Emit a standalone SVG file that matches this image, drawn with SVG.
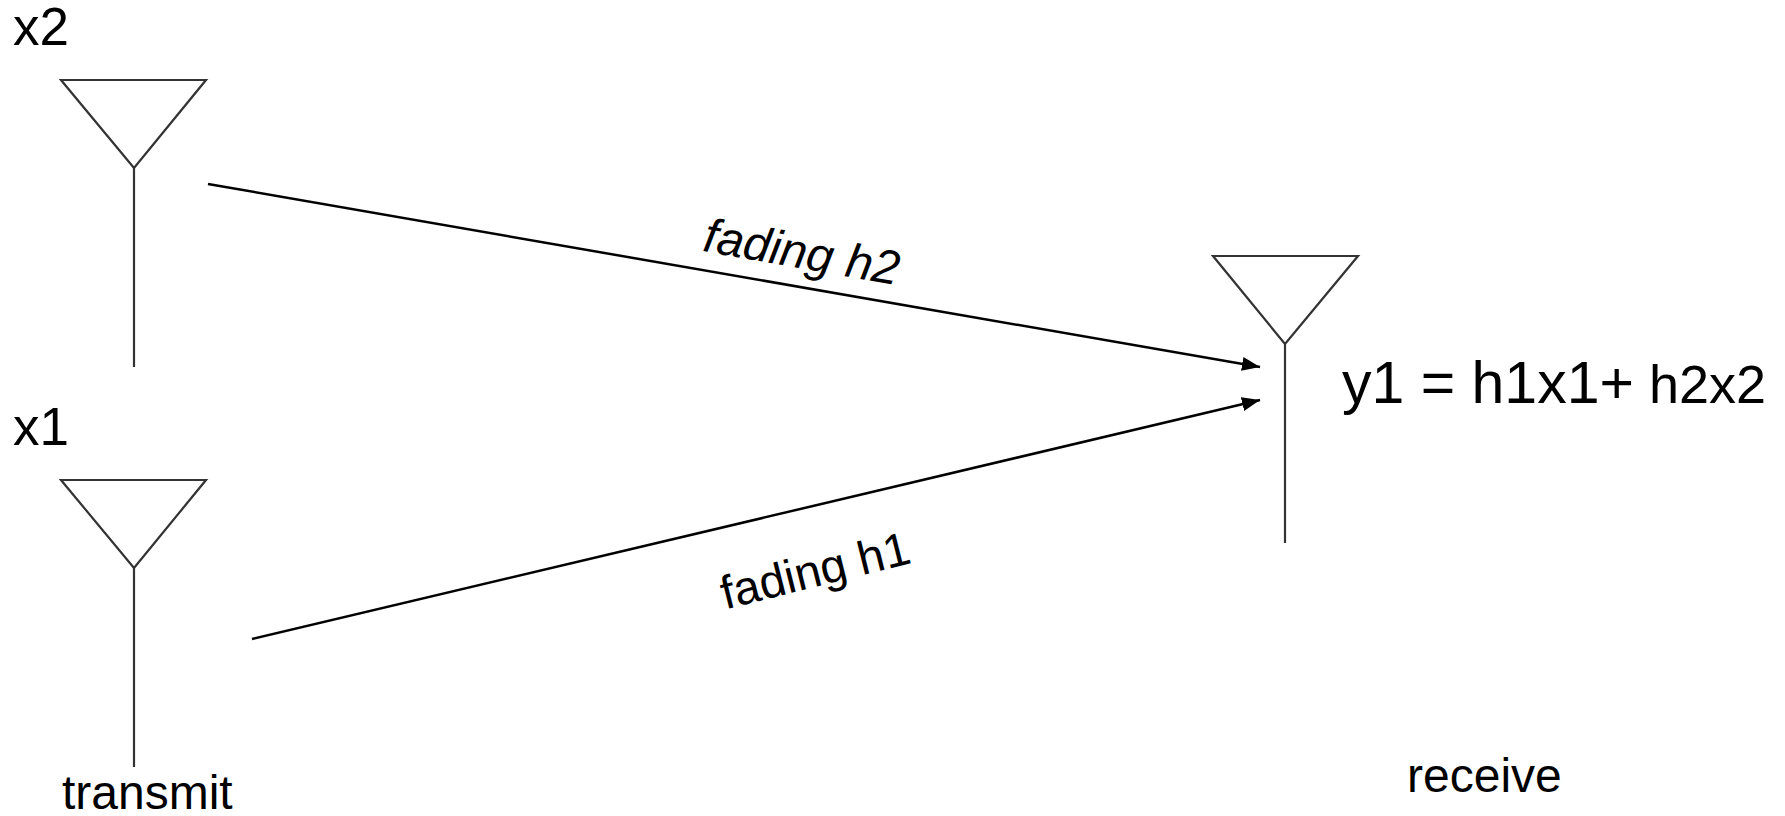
<svg xmlns="http://www.w3.org/2000/svg" width="1785" height="816" viewBox="0 0 1785 816">
<style>
.ant{fill:none;stroke:#333333;stroke-width:2.2}
.lbl{font-family:"Liberation Sans",Arial,sans-serif;fill:#000000}
.conn{stroke:#000000;stroke-width:2.5;fill:none}
</style>
<defs>
<marker id="arr" markerUnits="userSpaceOnUse" markerWidth="20" markerHeight="14" refX="18" refY="7" orient="auto">
<path d="M0,0 L18,7 L0,14 Z" fill="#000000"/>
</marker>
</defs>
<rect width="1785" height="816" fill="#ffffff"/>
<g id="tx2">
<path class="ant" d="M61,80 L206,80 L134,168 Z M134,168 L134,367"/>
<text class="lbl" x="13" y="45" font-size="53">x2</text>
</g>
<g id="tx1">
<path class="ant" d="M61,480 L206,480 L134,568 Z M134,568 L134,767"/>
<text class="lbl" x="13" y="445" font-size="53">x1</text>
<text class="lbl" x="62" y="809" font-size="48">transmit</text>
</g>
<g id="rx">
<path class="ant" d="M1213,256 L1358,256 L1285,344 Z M1285,344 L1285,543"/>
<text class="lbl" x="1342" y="403"><tspan font-size="59">y1 = h1x1+</tspan><tspan font-size="54"> h2x2</tspan></text>
<text class="lbl" x="1407" y="792" font-size="48">receive</text>
</g>
<g id="connectors">
<line class="conn" x1="208" y1="184" x2="1260" y2="367" marker-end="url(#arr)"/>
<line class="conn" x1="252" y1="639" x2="1260" y2="400" marker-end="url(#arr)"/>
<text class="lbl" font-size="48" font-style="italic" text-anchor="middle" transform="translate(799,268) rotate(10)">fading h2</text>
<text class="lbl" font-size="47" text-anchor="middle" transform="translate(819,586) rotate(-14)">fading h1</text>
</g>
</svg>
